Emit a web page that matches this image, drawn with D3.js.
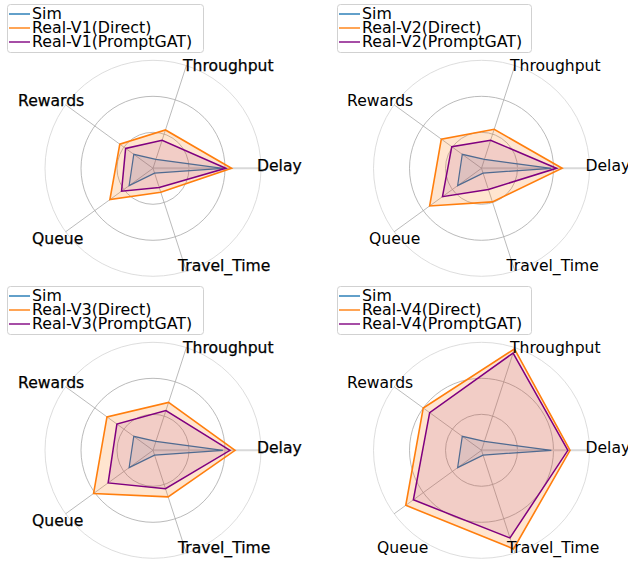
<!DOCTYPE html>
<html><head><meta charset="utf-8">
<script src="https://cdn.jsdelivr.net/npm/d3@7"></script>
<style>body{margin:0;background:#fff}svg{display:block}</style>
</head><body>
<script>
// ---- data ----
const axesNames = ["Delay", "Throughput", "Rewards", "Queue", "Travel_Time"];
const ringTicks = [0.5, 1.0, 1.5];
const versions = ["V1", "V2", "V3", "V4"];
const simValues = [0.97, 0.13, 0.33, 0.41, 0.07];
const directValues = [
  [1.09, 0.56, 0.57, 0.74, 0.35],
  [1.12, 0.57, 0.69, 0.89, 0.49],
  [1.14, 0.70, 0.79, 1.02, 0.68],
  [1.23, 1.48, 1.00, 1.30, 1.44]
];
const promptValues = [
  [1.01, 0.41, 0.47, 0.54, 0.28],
  [1.04, 0.41, 0.51, 0.67, 0.31],
  [1.07, 0.58, 0.62, 0.77, 0.56],
  [1.20, 1.42, 0.89, 1.17, 1.28]
];

// ---- layout ----
const W = 628, H = 563, R = 108;
const panels = [
  {cx: 153, cy: 168.3, lx: 7,   ly: 4,   lw: 196, lab: [[104,3],[30,-97],[-135,-62],[-121,76],[25,102.5]], bold: true},
  {cx: 481.5, cy: 168.3, lx: 337, ly: 4, lw: 194, lab: [[104,3],[28.5,-97],[-134.5,-62],[-112.5,76],[25,102.5]], bold: false},
  {cx: 153, cy: 450.3, lx: 7,   ly: 286, lw: 196, lab: [[104,3],[30,-97],[-135,-62],[-121,76],[25,102.5]], bold: true},
  {cx: 481.5, cy: 450.3, lx: 337, ly: 286, lw: 194, lab: [[104,3],[28.5,-97],[-134.5,-62],[-104.5,102.5],[25.5,102.5]], bold: false}
];
const colors = {sim: "#1f77b4", direct: "#ff7f0e", prompt: "#800080"};
const fillAlpha = {sim: 0.12, direct: 0.2, prompt: 0.1};
const FONT = "'DejaVu Sans', sans-serif";
const FS_AX = 15.6;
const FS_LEG = 15.8;

const svg = d3.select("body").append("svg").attr("width", W).attr("height", H);

const r = d3.scaleLinear().domain([0, 1.5]).range([0, R]);
// d3 radial: angle measured clockwise from 12 o'clock; convert from CCW-from-right
const line = d3.lineRadial().angle((d, i) => Math.PI/2 - (i * 2*Math.PI / axesNames.length)).radius(d => r(d)).curve(d3.curveLinearClosed);

panels.forEach((p, k) => {
  const g = svg.append("g").attr("transform", `translate(${p.cx},${p.cy})`);
  // rings
  g.selectAll("circle.ring").data(ringTicks).join("circle")
    .attr("r", d => r(d)).attr("fill", "none")
    .attr("stroke", (d, i) => i === ringTicks.length - 1 ? "#d4d4d4" : "#a8a8a8")
    .attr("stroke-width", 0.8);
  // spokes
  axesNames.forEach((a, i) => {
    const th = i * 2*Math.PI / axesNames.length;
    g.append("line").attr("x1", 0).attr("y1", 0)
      .attr("x2", r(1.5) * Math.cos(th)).attr("y2", -r(1.5) * Math.sin(th))
      .attr("stroke", i === 0 ? "#d9d9d9" : "#aaaaaa")
      .attr("stroke-width", i === 0 ? 2 : 0.8);
  });
  const series = [
    {key: "sim", vals: simValues, w: 1.2},
    {key: "direct", vals: directValues[k], w: 1.6},
    {key: "prompt", vals: promptValues[k], w: 1.5}
  ];
  series.forEach(s => {
    g.append("path").attr("d", line(s.vals)).attr("fill", "none")
      .attr("stroke", colors[s.key]).attr("stroke-width", s.w).attr("stroke-linejoin", "miter");
    g.append("path").attr("d", line(s.vals)).attr("fill", colors[s.key])
      .attr("fill-opacity", fillAlpha[s.key]).attr("stroke", "none");
  });
  // axis labels
  axesNames.forEach((a, i) => {
    const t = g.append("text").attr("x", p.lab[i][0]).attr("y", p.lab[i][1])
      .attr("font-family", FONT).attr("font-size", FS_AX).attr("fill", "#000").text(a);
    if (p.bold) t.attr("stroke", "#000").attr("stroke-width", 0.25);
  });
  // legend
  const lg = svg.append("g").attr("transform", `translate(${p.lx},${p.ly})`);
  lg.append("rect").attr("x", 0.5).attr("y", 0.5).attr("width", p.lw).attr("height", 48)
    .attr("rx", 3).attr("fill", "#fff").attr("fill-opacity", 0.8)
    .attr("stroke", "#cccccc").attr("stroke-width", 0.9);
  const labels = ["Sim", `Real-${versions[k]}(Direct)`, `Real-${versions[k]}(PromptGAT)`];
  const keys = ["sim", "direct", "prompt"];
  labels.forEach((lab, j) => {
    const by = 14.5 + j * 14;
    lg.append("line").attr("x1", 2).attr("x2", 23).attr("y1", by - 4.5).attr("y2", by - 4.5)
      .attr("stroke", colors[keys[j]]).attr("stroke-width", 1.4);
    lg.append("text").attr("x", 25).attr("y", by).attr("font-family", FONT)
      .attr("font-size", FS_LEG).attr("fill", "#000").text(lab);
  });
});
</script>
</body></html>
